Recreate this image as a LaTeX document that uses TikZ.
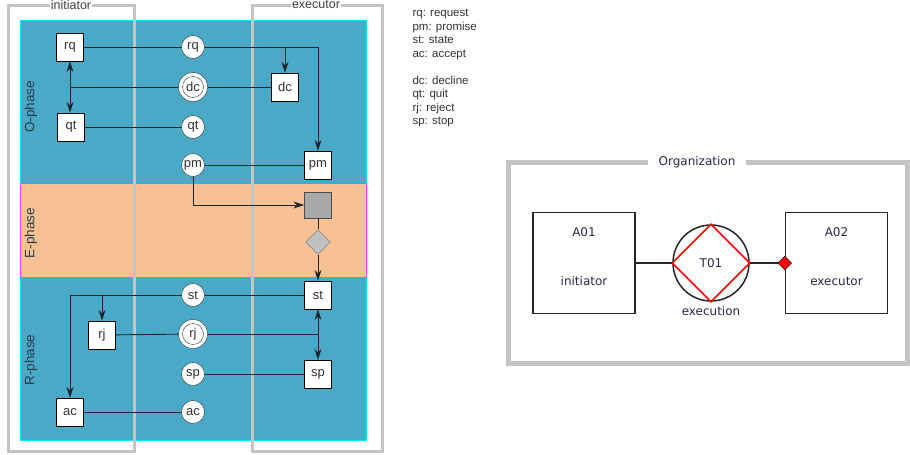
\documentclass[tikz,border=0pt]{standalone}
\usepackage{fontspec}
\setmainfont{Liberation Sans}
\newfontfamily\orgfont{DejaVu Sans}
\usepackage{xcolor}
\usepackage{tikz}
\usetikzlibrary{positioning, arrows.meta, shapes.geometric}
\definecolor{PhaseBlue}{RGB}{74,169,198}
\definecolor{PhaseOrange}{RGB}{248,193,148}
\definecolor{PhaseCyan}{RGB}{0,230,255}
\definecolor{PhaseMagenta}{RGB}{255,70,255}
\definecolor{FrameGray}{RGB}{196,196,196}
\definecolor{EdgeDark}{RGB}{30,38,44}
\definecolor{ExecGray}{RGB}{168,168,168}
\definecolor{DecGray}{RGB}{192,192,192}
\definecolor{LabelDark}{RGB}{38,58,72}
\definecolor{OrgText}{RGB}{40,40,70}
\tikzset{
  actbox/.style={draw=black, fill=white, minimum width=27pt, minimum height=28pt, inner sep=0pt,
    font=\fontsize{13}{15}\selectfont, text=black!80},
  factc/.style={circle, draw=LabelDark, fill=white, minimum size=23pt, inner sep=0pt,
    font=\fontsize{13}{15}\selectfont, text=black!80},
  factcc/.style={factc, minimum size=29pt,
    path picture={\draw[LabelDark] (path picture bounding box.center) circle (10.5pt);}},
  execbox/.style={draw=black!70, fill=ExecGray, minimum width=27pt, minimum height=26pt, inner sep=0pt},
  decbox/.style={diamond, draw=black!60, fill=DecGray, minimum size=25pt, inner sep=0pt},
  link/.style={draw=EdgeDark, line width=0.9pt},
  flow/.style={link, -{Stealth[length=11pt, width=7pt]}},
  both/.style={link, {Stealth[length=11pt, width=7pt]}-{Stealth[length=11pt, width=7pt]}},
  rolefr/.style={draw=FrameGray, line width=3pt},
  roletxt/.style={fill=white, inner sep=1pt, font=\fontsize{12.5}{14}\selectfont, text=black!75},
  phasetxt/.style={rotate=90, font=\fontsize{13.5}{15}\selectfont, text=LabelDark},
  legend/.style={anchor=north west, align=left, font=\fontsize{11.5}{13.5}\selectfont, text=black!80},
  orgfr/.style={draw=FrameGray, line width=5pt},
  orgact/.style={draw=black!85, line width=1.5pt, minimum width=102pt, minimum height=101pt},
  orgtxt/.style={font=\orgfont\fontsize{12}{14}\selectfont, text=OrgText},
  orglink/.style={draw=black!85, line width=1.5pt},
}
\begin{document}
\begin{tikzpicture}[x=1pt, y=-1pt]
  \useasboundingbox (0,0) rectangle (910,455);
  % phases
  \draw[PhaseCyan, fill=PhaseBlue] (20,20) rectangle (366,183);
  \draw[PhaseCyan, fill=PhaseBlue] (20,277) rectangle (366,440);
  \draw[PhaseMagenta, fill=PhaseOrange] (20,183) rectangle (366,277);
  \node[phasetxt] (ophase) at (31,107) {O-phase};
  \node[phasetxt] (ephase) at (31,233) {E-phase};
  \node[phasetxt] (rphase) at (31,360) {R-phase};
  % role frames
  \draw[rolefr] (8,5) rectangle (134,451);
  \draw[rolefr] (252,5) rectangle (382,451);
  \node[roletxt] (ini) at (71,5) {initiator};
  \node[roletxt] (exe) at (316,5) {executor};

  % O-phase
  \node[actbox] (rqA) at (70,47) {rq};
  \node[actbox] (qtA) at (71,127) {qt};
  \node[actbox] (dcB) at (285,87) {dc};
  \node[actbox] (pmB) at (318,165) {pm};
  \node[factc] (rqC) at (193,47) {rq};
  \node[factcc] (dcC) at (193,87) {dc};
  \node[factc] (qtC) at (193,127) {qt};
  \node[factc] (pmC) at (193,165) {pm};
  % E-phase
  \node[execbox] (exA) at (318,205) {};
  \node[decbox] (decD) at (318,242) {};
  % R-phase
  \node[actbox] (stB) at (318,295) {st};
  \node[actbox] (rjA) at (102,335) {rj};
  \node[actbox] (spB) at (318,374) {sp};
  \node[actbox] (acA) at (70,412) {ac};
  \node[factc] (stC) at (193,295) {st};
  \node[factcc] (rjC) at (193,334) {rj};
  \node[factc] (spC) at (193,374) {sp};
  \node[factc] (acC) at (193,412) {ac};

  \draw[link] (rqA) -- (rqC);
  \draw[flow] (rqC.east) -| (pmB.north);
  \draw[flow] (dcB |- rqC) -- (dcB.north);
  \draw[link] (dcB) -- (dcC);
  \draw[link] (dcC.west) -- (dcC -| rqA);
  \draw[both] (rqA.south) -- (rqA.south |- qtA.north);
  \draw[link] (qtA) -- (qtC);
  \draw[link] (pmC) -- (pmB);
  \draw[flow] (pmC.south) |- (exA.west);
  \draw[link] (exA) -- (decD);
  \draw[flow] (decD) -- (stB);
  \draw[link] (stB) -- (stC);
  \draw[flow] (stC.west) -| (acA.north);
  \draw[flow] (rjA |- stC) -- (rjA.north);
  \draw[link] (rjA) -- (rjC);
  \draw[link] (rjC.east) -- (rjC -| stB);
  \draw[both] (stB) -- (spB);
  \draw[link] (spC) -- (spB);
  \draw[link] (acA) -- (acC);

  % legend
  \node[legend] (key) at (409,6) {rq: request\\pm: promise\\st: state\\ac: accept\\[13.5pt]dc: decline\\qt: quit\\rj: reject\\sp: stop};

  % organization
  \draw[orgfr] (508,162) rectangle (907,363);
  \node[orgtxt, fill=white, inner xsep=11pt] (org) at (697,162) {Organization};
  \node[orgact] (a01) at (584,263) {};
  \node[orgact] (a02) at (836.5,263) {};
  \node[circle, draw=black!85, line width=1.5pt, minimum size=76pt, inner sep=0pt, orgtxt] (t01) at (711,263) {T01};
  \draw[red, line width=1.5pt] (t01.north) -- (t01.east) -- (t01.south) -- (t01.west) -- cycle;
  \node[orgtxt] (a01id) at ([yshift=31pt]a01.center) {A01};
  \node[orgtxt] (a01role) at ([yshift=-18pt]a01.center) {initiator};
  \node[orgtxt] (a02id) at ([yshift=31pt]a02.center) {A02};
  \node[orgtxt] (a02role) at ([yshift=-18pt]a02.center) {executor};
  \node[orgtxt, below=1pt of t01] (t01name) {execution};
  \draw[orglink] (a01.east) -- (t01.west);
  \draw[orglink] (t01.east) -- (a02.west);
  \node[diamond, draw=black, fill=red, minimum size=14pt, inner sep=0pt] (exmark) at (a02.west) {};
\end{tikzpicture}
\end{document}
